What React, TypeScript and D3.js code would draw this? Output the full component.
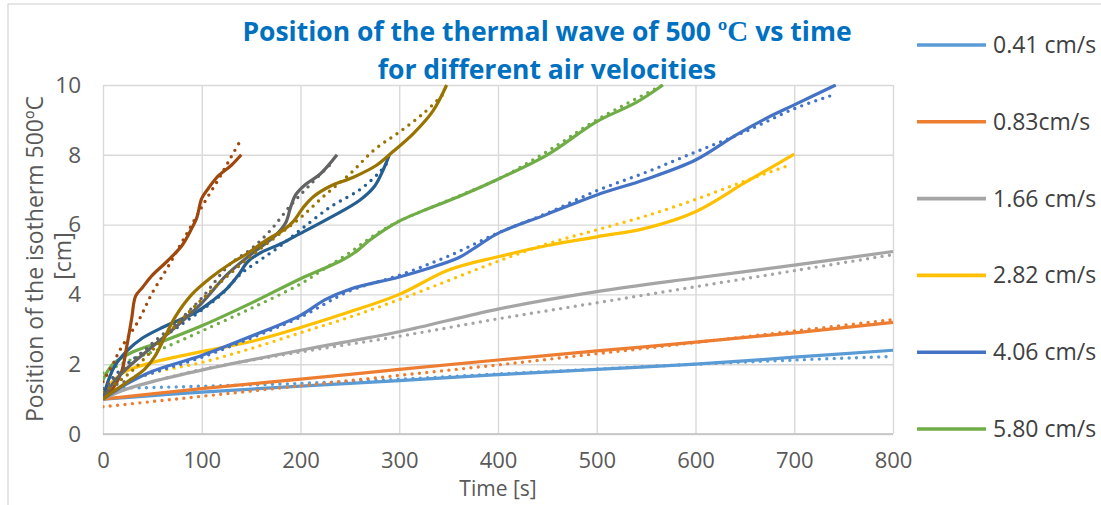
import React, { useRef, useEffect } from 'react';
import * as d3 from 'd3';

type Pt = [number, number];

// legend (only the first six series are listed in the original)
const legendLabels = ['0.41 cm/s', '0.83cm/s', '1.66 cm/s', '2.82 cm/s', '4.06 cm/s', '5.80 cm/s'];
const seriesColors = ['#5B9BD5', '#ED7D31', '#A5A5A5', '#FFC000', '#4472C4', '#70AD47', '#255E91', '#9E480E', '#636363', '#997300'];

const xTicks = [0, 100, 200, 300, 400, 500, 600, 700, 800];
const yTicks = [0, 2, 4, 6, 8, 10];

// [time s, position cm] - solid = measured, dotted = fit
const meas041: Pt[] = [[0, 1.0], [50, 1.1], [100, 1.2], [200, 1.37], [300, 1.53], [400, 1.7], [500, 1.85], [600, 2.0], [700, 2.2], [800, 2.4]];
const fit041: Pt[] = [[0, 1.15], [20, 1.3], [50, 1.33], [100, 1.37], [200, 1.45], [300, 1.57], [400, 1.72], [500, 1.86], [600, 2.0], [700, 2.12], [800, 2.22]];

const meas083: Pt[] = [[0, 1.0], [100, 1.3], [200, 1.57], [300, 1.85], [400, 2.12], [500, 2.38], [600, 2.63], [700, 2.9], [800, 3.2]];
const fit083: Pt[] = [[0, 0.78], [50, 0.93], [100, 1.08], [200, 1.38], [300, 1.68], [400, 1.98], [500, 2.3], [600, 2.62], [700, 2.95], [800, 3.28]];

const meas166: Pt[] = [[0, 1.0], [20, 1.25], [50, 1.5], [100, 1.83], [200, 2.4], [300, 2.93], [400, 3.58], [500, 4.08], [600, 4.47], [700, 4.84], [800, 5.23]];
const fit166: Pt[] = [[0, 1.1], [50, 1.5], [100, 1.85], [200, 2.35], [300, 2.8], [400, 3.3], [500, 3.76], [600, 4.22], [700, 4.68], [800, 5.14]];

const meas282: Pt[] = [[0, 1.2], [20, 1.75], [50, 2.05], [100, 2.36], [150, 2.65], [200, 3.05], [250, 3.5], [300, 4.0], [350, 4.7], [400, 5.08], [450, 5.4], [500, 5.65], [550, 5.9], [600, 6.37], [650, 7.2], [700, 8.02]];
const fit282: Pt[] = [[0, 1.3], [50, 1.75], [100, 2.05], [150, 2.45], [200, 2.9], [250, 3.35], [300, 3.85], [350, 4.4], [400, 4.95], [450, 5.45], [500, 5.85], [550, 6.25], [600, 6.72], [650, 7.25], [695, 7.7]];

const meas406: Pt[] = [[0, 1.0], [25, 1.45], [50, 1.8], [100, 2.25], [150, 2.8], [200, 3.4], [225, 3.85], [250, 4.15], [300, 4.5], [330, 4.75], [360, 5.05], [380, 5.4], [400, 5.75], [450, 6.3], [500, 6.85], [550, 7.3], [600, 7.85], [640, 8.55], [672, 9.05], [700, 9.43], [742, 10.0]];
const fit406: Pt[] = [[0, 1.3], [50, 1.75], [100, 2.2], [150, 2.75], [200, 3.35], [250, 4.1], [300, 4.55], [350, 5.1], [400, 5.76], [450, 6.33], [500, 6.97], [550, 7.5], [600, 8.08], [650, 8.66], [700, 9.32], [740, 9.72]];

const meas580: Pt[] = [[0, 1.55], [10, 2.0], [30, 2.35], [60, 2.65], [100, 3.1], [150, 3.75], [200, 4.45], [240, 4.95], [255, 5.2], [270, 5.55], [285, 5.85], [300, 6.1], [320, 6.35], [360, 6.8], [400, 7.3], [450, 8.0], [500, 8.95], [540, 9.5], [567, 10.0]];
const fit580: Pt[] = [[0, 1.75], [30, 2.15], [60, 2.45], [100, 2.95], [150, 3.6], [200, 4.3], [225, 4.75], [250, 5.2], [275, 5.7], [300, 6.1], [350, 6.7], [400, 7.3], [450, 8.1], [500, 9.0], [560, 9.9], [570, 10.05]];

const measS7: Pt[] = [[0, 1.0], [5, 1.5], [12, 1.95], [25, 2.4], [40, 2.75], [60, 3.05], [80, 3.3], [95, 3.5], [110, 3.8], [125, 4.15], [137, 4.55], [147, 4.95], [160, 5.2], [180, 5.45], [200, 5.75], [230, 6.2], [260, 6.7], [275, 7.1], [285, 7.65], [290, 8.0]];
const fitS7: Pt[] = [[0, 1.3], [20, 1.9], [50, 2.55], [80, 3.15], [100, 3.55], [120, 4.0], [140, 4.6], [160, 5.0], [180, 5.4], [200, 5.85], [230, 6.5], [260, 7.0], [280, 7.5], [290, 7.85]];

const measS8: Pt[] = [[0, 1.0], [10, 1.3], [19, 1.8], [24, 2.5], [29, 3.3], [33, 3.95], [40, 4.2], [50, 4.55], [65, 4.95], [80, 5.4], [90, 5.9], [95, 6.2], [100, 6.75], [107, 7.05], [117, 7.4], [130, 7.7], [140, 8.0]];
const fitS8: Pt[] = [[0, 1.5], [10, 2.0], [17, 2.4], [36, 3.25], [50, 4.05], [65, 4.75], [78, 5.4], [90, 6.0], [103, 6.65], [117, 7.3], [130, 7.95], [140, 8.45]];

const measS9: Pt[] = [[0, 1.0], [10, 1.45], [25, 1.9], [50, 2.5], [75, 3.1], [100, 3.75], [125, 4.55], [150, 5.15], [175, 5.7], [185, 6.05], [190, 6.5], [195, 6.85], [205, 7.15], [220, 7.45], [237, 8.0]];
const fitS9: Pt[] = [[0, 1.3], [25, 1.95], [50, 2.6], [75, 3.2], [100, 3.9], [128, 4.85], [150, 5.3], [170, 5.85], [190, 6.55], [210, 7.15], [233, 7.8]];

const measS10: Pt[] = [[0, 1.0], [12, 1.25], [25, 1.5], [42, 1.85], [52, 2.2], [63, 2.8], [73, 3.35], [90, 4.0], [110, 4.5], [130, 4.9], [145, 5.15], [165, 5.55], [183, 5.85], [193, 6.1], [203, 6.5], [213, 6.8], [230, 7.1], [253, 7.35], [277, 7.7], [294, 8.1], [314, 8.6], [334, 9.25], [348, 10.0]];
const fitS10: Pt[] = [[0, 1.2], [25, 1.7], [50, 2.4], [75, 3.15], [100, 3.85], [125, 4.5], [150, 5.1], [175, 5.65], [200, 6.2], [225, 6.85], [250, 7.45], [275, 8.15], [300, 8.65], [325, 9.2], [345, 9.75]];

const measuredSets = [meas041, meas083, meas166, meas282, meas406, meas580, measS7, measS8, measS9, measS10];
const fitSets = [fit041, fit083, fit166, fit282, fit406, fit580, fitS7, fitS8, fitS9, fitS10];

const FONT = '"Open Sans", "Liberation Sans", sans-serif';

const App = () => {
    const svgRef = useRef<SVGSVGElement>(null);

    useEffect(() => {
        document.body.style.margin = '0';
        const svg = d3.select(svgRef.current);
        svg.selectAll('*').remove();

        const plot = { left: 103, right: 893, top: 85, bottom: 434 };

        const x = d3.scaleLinear().domain([0, 800]).range([plot.left, plot.right]);
        const y = d3.scaleLinear().domain([0, 10]).range([plot.bottom, plot.top]);

        // chart border
        svg.append('rect')
            .attr('x', 8).attr('y', 4)
            .attr('width', 1200).attr('height', 600)
            .attr('fill', 'white')
            .attr('stroke', '#D9D9D9')
            .attr('stroke-width', 1.3);

        // grid + tick labels
        const gx = svg.append('g')
            .attr('transform', `translate(0, ${plot.bottom})`)
            .call(d3.axisBottom(x).tickValues(xTicks).tickSize(-(plot.bottom - plot.top)).tickFormat(d => `${d}`).tickPadding(18));
        gx.select('.domain').remove();
        gx.selectAll('line').attr('stroke', '#D9D9D9').attr('stroke-width', 1.4);
        gx.selectAll('text')
            .attr('fill', '#595959')
            .style('font-family', FONT)
            .style('font-size', '22px');

        const gy = svg.append('g')
            .attr('transform', `translate(${plot.left}, 0)`)
            .call(d3.axisLeft(y).tickValues(yTicks).tickSize(-(plot.right - plot.left)).tickPadding(22));
        gy.select('.domain').remove();
        gy.selectAll('line').attr('stroke', '#D9D9D9').attr('stroke-width', 1.4);
        gy.selectAll('text')
            .attr('fill', '#595959')
            .style('font-family', FONT)
            .style('font-size', '22.5px');

        // axis line
        svg.append('line')
            .attr('x1', plot.left).attr('x2', plot.right)
            .attr('y1', y(0)).attr('y2', y(0))
            .attr('stroke', '#BFBFBF').attr('stroke-width', 1.5);

        svg.append('clipPath').attr('id', 'plotClip')
            .append('rect')
            .attr('x', plot.left).attr('y', plot.top - 1)
            .attr('width', plot.right - plot.left + 2)
            .attr('height', plot.bottom - plot.top + 1);

        const line = d3.line<Pt>()
            .x(d => x(d[0]))
            .y(d => y(d[1]))
            .curve(d3.curveCatmullRom.alpha(0.5));

        const lines = svg.append('g').attr('clip-path', 'url(#plotClip)');

        measuredSets.forEach((pts, i) => {
            lines.append('path')
                .attr('d', line(pts))
                .attr('fill', 'none')
                .attr('stroke', seriesColors[i])
                .attr('stroke-width', 3.2)
                .attr('stroke-linejoin', 'round');
            lines.append('path')
                .attr('d', line(fitSets[i]))
                .attr('fill', 'none')
                .attr('stroke', seriesColors[i])
                .attr('stroke-width', 3.4)
                .attr('stroke-linecap', 'round')
                .attr('stroke-dasharray', '0 7.4');
        });

        // title
        const title = svg.append('text')
            .attr('text-anchor', 'middle')
            .attr('fill', '#0070C0')
            .style('font-family', FONT)
            .style('font-weight', 'bold')
            .style('font-size', '26.5px');
        const t1 = title.append('tspan').attr('x', 547).attr('y', 41);
        t1.append('tspan').text('Position of the thermal wave of 500 ');
        t1.append('tspan').style('font-family', '"Liberation Serif", serif').style('font-size', '29px').text('ºC');
        t1.append('tspan').text(' vs time');
        title.append('tspan').attr('x', 547).attr('y', 79).text('for different air velocities');

        // axis titles
        svg.append('text')
            .attr('text-anchor', 'middle')
            .attr('transform', 'translate(498, 496)')
            .attr('fill', '#595959')
            .style('font-family', FONT)
            .style('font-size', '21px')
            .text('Time [s]');

        const yTitle = svg.append('text')
            .attr('text-anchor', 'middle')
            .attr('transform', 'rotate(-90)')
            .attr('fill', '#595959')
            .style('font-family', FONT)
            .style('font-size', '23px');
        yTitle.append('tspan').attr('x', -259).attr('y', 43).text('Position of the isotherm 500ºC');
        yTitle.append('tspan').attr('x', -256).attr('y', 71).text('[cm]');

        // legend
        const legend = svg.append('g');
        legendLabels.forEach((label, i) => {
            const ly = 45 + i * 76.8;
            legend.append('line')
                .attr('x1', 917).attr('x2', 986)
                .attr('y1', ly).attr('y2', ly)
                .attr('stroke', seriesColors[i])
                .attr('stroke-width', 3.6);
            legend.append('text')
                .attr('x', 993).attr('y', ly + 8)
                .attr('fill', '#404040')
                .style('font-family', FONT)
                .style('font-size', '23px')
                .text(label);
        });
    }, []);

    return <svg ref={svgRef} width={1101} height={505} style={{ display: 'block' }} />;
};

export default App;
